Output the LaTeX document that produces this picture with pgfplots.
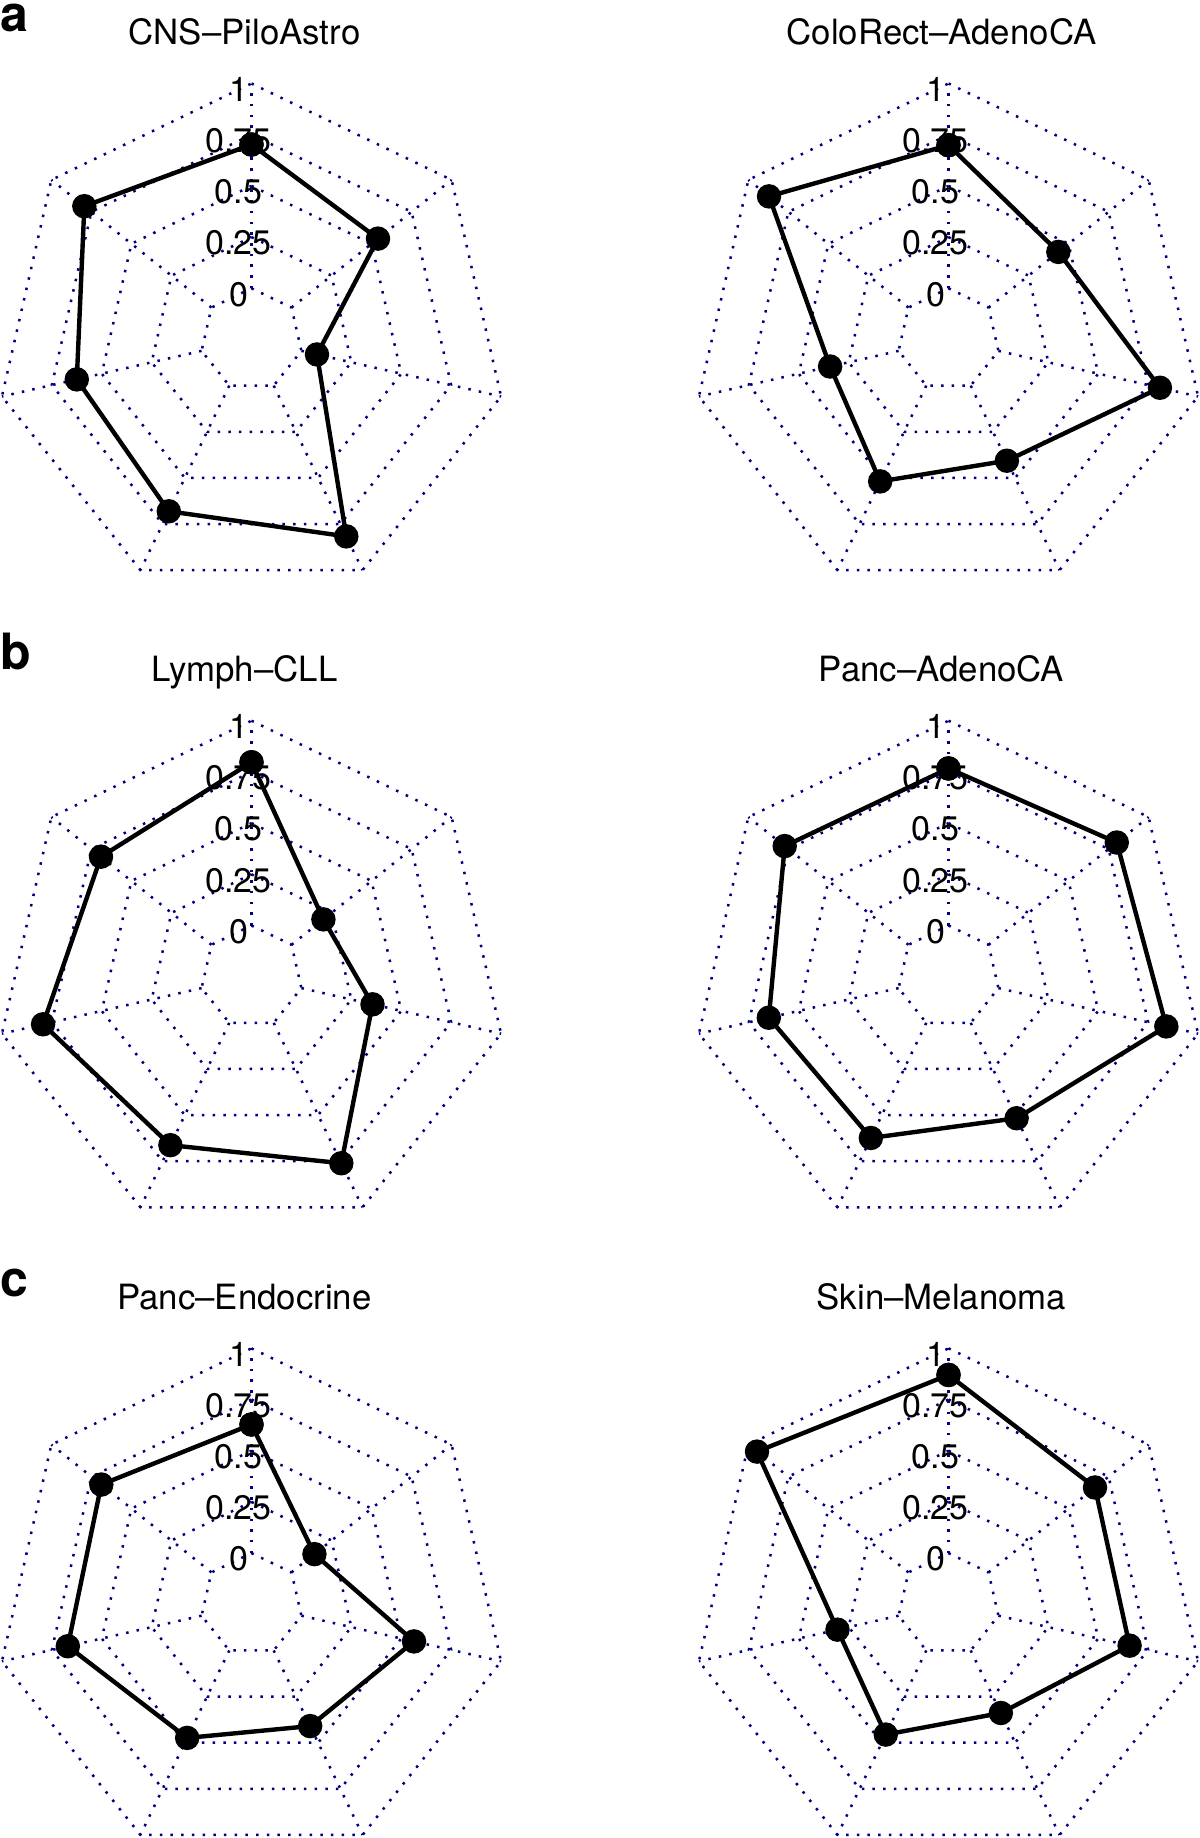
\documentclass[border=0pt]{standalone}
\usepackage{pgfplots}
\pgfplotsset{compat=1.18}
\usepackage{pgfplotstable}
\usepackage{fontspec}
\setmainfont{TeX Gyre Heros}
\definecolor{gridblue}{RGB}{0,0,128}

\pgfplotstableread{
a v
90 0.702
38.5714 0.540
-12.8571 0.078
-64.2857 0.817
-115.7143 0.681
-167.1429 0.625
141.4286 0.794
90 0.702
}\cnsdata
\pgfplotstableread{
a v
90 0.699
38.5714 0.436
-12.8571 0.809
-64.2857 0.407
-115.7143 0.519
-167.1429 0.343
141.4286 0.871
90 0.699
}\colodata
\pgfplotstableread{
a v
90 0.797
38.5714 0.199
-12.8571 0.356
-64.2857 0.761
-115.7143 0.663
-167.1429 0.794
141.4286 0.690
90 0.797
}\lymphdata
\pgfplotstableread{
a v
90 0.767
38.5714 0.801
-12.8571 0.841
-64.2857 0.517
-115.7143 0.624
-167.1429 0.650
141.4286 0.773
90 0.767
}\pancadata
\pgfplotstableread{
a v
90 0.628
38.5714 0.143
-12.8571 0.564
-64.2857 0.410
-115.7143 0.474
-167.1429 0.670
141.4286 0.688
90 0.628
}\pancedata
\pgfplotstableread{
a v
90 0.870
38.5714 0.665
-12.8571 0.657
-64.2857 0.339
-115.7143 0.456
-167.1429 0.306
141.4286 0.946
90 0.870
}\skindata

\pgfplotsset{
  spider/.style={
    anchor=center, x=102.4pt, y=102.4pt,
    xmin=-1.25, xmax=1.25, ymin=-1.25, ymax=1.25,
    hide axis, clip=false
  },
  gridline/.style={gridblue, line width=1.25pt, dash pattern=on 1.25pt off 4.1pt, forget plot, mark=none, data cs=polar},
  dataline/.style={black, line width=2.2pt, mark=*, mark size=5pt, mark options={solid, fill=black, draw=black}, data cs=polar}
}
\tikzset{
  lbl/.style={font=\fontsize{17}{20}\selectfont, inner sep=0pt, anchor=center, xshift=-6.5pt, yshift=-3pt},
  ttl/.style={font=\fontsize{17.4}{20}\selectfont, inner sep=0pt, anchor=base, xshift=-3.5pt, yshift=147.5pt},
  pnl/.style={font=\fontsize{25}{28}\selectfont\bfseries, inner sep=0pt, anchor=base west, xshift=-125.75pt, yshift=153.8pt}
}
\newcommand\spidergrid{%
  \pgfplotsinvokeforeach{0.25,0.5,0.75,1,1.25}{%
    \addplot[gridline] coordinates {(90,##1) (38.5714,##1) (-12.8571,##1) (-64.2857,##1) (-115.7143,##1) (-167.1429,##1) (141.4286,##1) (90,##1)};
  }%
  \pgfplotsinvokeforeach{90,38.5714,-12.8571,-64.2857,-115.7143,-167.1429,141.4286}{%
    \addplot[gridline] coordinates {(##1,0.25) (##1,1.25)};
  }%
  \node[lbl] at (axis cs:0,1.25) {1};
  \node[lbl] at (axis cs:0,1.0) {0.75};
  \node[lbl] at (axis cs:0,0.75) {0.5};
  \node[lbl] at (axis cs:0,0.5) {0.25};
  \node[lbl] at (axis cs:0,0.25) {0};
}

\begin{document}
\begin{tikzpicture}
\useasboundingbox (0,0) rectangle (600pt,-919pt);

\begin{axis}[spider, at={(125.75pt,-169.75pt)}]
\spidergrid
\addplot[dataline] table[x=a, y expr=\thisrow{v}+0.25] {\cnsdata};
\node[ttl] at (axis cs:0,0) {CNS--PiloAstro};
\node[pnl] at (axis cs:0,0) {a};
\end{axis}

\begin{axis}[spider, at={(474.25pt,-169.75pt)}]
\spidergrid
\addplot[dataline] table[x=a, y expr=\thisrow{v}+0.25] {\colodata};
\node[ttl] at (axis cs:0,0) {ColoRect--AdenoCA};
\end{axis}

\begin{axis}[spider, at={(125.75pt,-488.35pt)}]
\spidergrid
\addplot[dataline] table[x=a, y expr=\thisrow{v}+0.25] {\lymphdata};
\node[ttl] at (axis cs:0,0) {Lymph--CLL};
\node[pnl] at (axis cs:0,0) {b};
\end{axis}

\begin{axis}[spider, at={(474.25pt,-488.35pt)}]
\spidergrid
\addplot[dataline] table[x=a, y expr=\thisrow{v}+0.25] {\pancadata};
\node[ttl] at (axis cs:0,0) {Panc--AdenoCA};
\end{axis}

\begin{axis}[spider, at={(125.75pt,-802.15pt)}]
\spidergrid
\addplot[dataline] table[x=a, y expr=\thisrow{v}+0.25] {\pancedata};
\node[ttl] at (axis cs:0,0) {Panc--Endocrine};
\node[pnl] at (axis cs:0,0) {c};
\end{axis}

\begin{axis}[spider, at={(474.25pt,-802.15pt)}]
\spidergrid
\addplot[dataline] table[x=a, y expr=\thisrow{v}+0.25] {\skindata};
\node[ttl] at (axis cs:0,0) {Skin--Melanoma};
\end{axis}

\end{tikzpicture}
\end{document}
